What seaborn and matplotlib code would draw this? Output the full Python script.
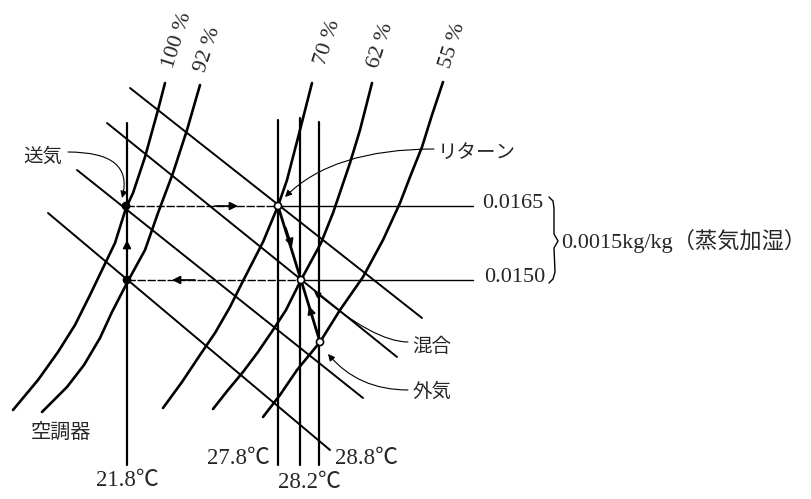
import pandas as pd
import seaborn as sns
import matplotlib.pyplot as plt

# sketch coordinates (px of the original drawing, y grows downwards)

# relative humidity curves
rh_labels = ["100 %", "92 %", "70 %", "62 %", "55 %"]
rh_100_x = [165, 158, 145, 133, 126, 115, 102, 90, 75, 58, 38, 13]
rh_100_y = [83, 110, 157, 193, 208, 243, 270, 295, 325, 352, 380, 410]
rh_92_x = [200, 187, 173, 158, 145, 128, 112, 100, 84, 67, 42]
rh_92_y = [85, 130, 173, 213, 250, 281, 312, 338, 365, 387, 412]
rh_70_x = [312, 300, 287, 278, 263, 243, 230, 215, 200, 182, 163]
rh_70_y = [83, 130, 180, 206, 242, 281, 307, 333, 355, 382, 408]
rh_62_x = [372, 360, 350, 333, 321, 301, 286, 273, 258, 243, 228, 213]
rh_62_y = [83, 130, 163, 213, 243, 280, 310, 330, 352, 372, 390, 409]
rh_55_x = [443, 432, 422, 410, 400, 383, 363, 340, 320, 297, 280, 263]
rh_55_y = [82, 115, 147, 177, 203, 240, 277, 310, 342, 370, 395, 417]
rh_label_x = [178, 208, 328, 381, 453]
rh_label_y = [40, 50, 43, 46, 46]

# enthalpy lines (start / end)
enth_x0 = [130, 107, 77, 48]
enth_y0 = [88, 123, 170, 213]
enth_x1 = [422, 397, 363, 330]
enth_y1 = [318, 357, 398, 450]

# dry bulb temperatures
db_labels = ["21.8℃", "27.8℃", "28.2℃", "28.8℃"]
db_x = [127, 278, 300, 319]
db_top = [123, 120, 118, 122]
db_bottom = [465, 465, 465, 465]
db_label_x = [127, 238, 309, 367]
db_label_y = [481, 459, 482, 458]

# humidity ratios
hr_labels = ["0.0165", "0.0150"]
hr_y = [206, 280]
hr_x0 = [126, 127]
hr_xmid = [278, 301]
hr_x1 = [473, 473]
hr_label_x = [482, 484]
brace_x = [549, 553, 554, 554, 558, 554, 555, 553, 549]
brace_y = [197, 201, 208, 234, 241, 248, 272, 279, 283]
hr_diff_text = "0.0015kg/kg（蒸気加湿）"

# state points: supply, return, mixed, outdoor, coil outlet
state_x = [126, 278, 301, 320, 127]
state_y = [206, 206, 280, 342, 280]
state_fill = ["black", "white", "white", "white", "black"]

# process arrows (tail -> tip)
arrow_tail = [(215, 206), (195, 280), (127, 262), (286, 228), (314, 322)]
arrow_tip = [(238, 206), (172, 280), (127, 240), (292, 247), (309, 306)]

# leader labels: text, text pos, arrow tip, curve angles
lead_text = ["送気", "リターン", "混合", "外気"]
lead_text_xy = [(43, 156), (477, 152), (432, 346), (432, 391)]
lead_start = [(68, 152), (434, 149), (408, 342), (408, 390)]
lead_tip = [(122, 198), (285, 197), (314, 291), (328, 354)]
lead_angles = [(0, 75), (0, 45), (0, -40), (0, -50)]


def segments(xs_list, ys_list):
    rows = []
    for i, (xs, ys) in enumerate(zip(xs_list, ys_list)):
        for x, y in zip(xs, ys):
            rows.append({"x": x, "y": y, "line": i})
    return pd.DataFrame(rows)


def draw(df, lw, **kw):
    sns.lineplot(data=df, x="x", y="y", units="line", estimator=None, sort=False,
                 color="black", linewidth=lw, ax=ax, **kw)


sns.set_style("white")
plt.rcParams["font.family"] = ["Liberation Serif", "Noto Sans CJK JP"]

fig = plt.figure(figsize=(8.12, 4.99), dpi=100)
ax = fig.add_axes([0, 0, 1, 1])

draw(segments([rh_100_x, rh_92_x, rh_70_x, rh_62_x, rh_55_x],
              [rh_100_y, rh_92_y, rh_70_y, rh_62_y, rh_55_y]), 1.9)

draw(segments([[a, b] for a, b in zip(enth_x0, enth_x1)],
              [[a, b] for a, b in zip(enth_y0, enth_y1)]), 1.4)

draw(segments([[x, x] for x in db_x],
              [[t, b] for t, b in zip(db_top, db_bottom)]), 1.6)

# humidity lines: dashed between states, plain out to the labels
draw(segments([[a, b] for a, b in zip(hr_x0, hr_xmid)],
              [[y, y] for y in hr_y]), 1.0, linestyle=(0, (6, 1.2)))
draw(segments([[a, b] for a, b in zip(hr_xmid, hr_x1)],
              [[y, y] for y in hr_y]), 1.0)

# process lines return->mix and outdoor->mix
draw(segments([[state_x[1], state_x[2]], [state_x[3], state_x[2]]],
              [[state_y[1], state_y[2]], [state_y[3], state_y[2]]]), 2.0)

draw(segments([brace_x], [brace_y]), 1.0)

sns.scatterplot(x=state_x, y=state_y, color=state_fill, edgecolor="black",
                s=26, linewidth=1.2, zorder=5, ax=ax)

for tail, tip in zip(arrow_tail, arrow_tip):
    ax.annotate("", xy=tip, xytext=tail,
                arrowprops=dict(arrowstyle="-|>", color="black", lw=1.2,
                                mutation_scale=12, shrinkA=0, shrinkB=0))

for txt, txy, start, tip, (a, b) in zip(lead_text, lead_text_xy, lead_start,
                                        lead_tip, lead_angles):
    ax.annotate("", xy=tip, xytext=start,
                arrowprops=dict(arrowstyle="-|>", color="black", lw=0.8,
                                mutation_scale=10, shrinkA=0, shrinkB=0,
                                connectionstyle=f"angle3,angleA={a},angleB={b}"))
    ax.text(txy[0], txy[1], txt, fontsize=14, ha="center", va="center",
            family=["Noto Sans CJK JP"])

ax.text(61, 432, "空調器", fontsize=14.5, ha="center", va="center",
        family=["Noto Sans CJK JP"])

for lab, x, y in zip(rh_labels, rh_label_x, rh_label_y):
    ax.text(x, y, lab, fontsize=16, rotation=72, rotation_mode="anchor",
            ha="center", va="center")

for lab, x, y in zip(db_labels, db_label_x, db_label_y):
    ax.text(x, y, lab, fontsize=16.5, ha="center", va="center")

for lab, x, y in zip(hr_labels, hr_label_x, hr_y):
    ax.text(x, y - 2, lab, fontsize=16, ha="left", va="center")

ax.text(561, 241, hr_diff_text, fontsize=16, ha="left", va="center")

ax.set_xlim(0, 812)
ax.set_ylim(499, 0)
ax.axis("off")

fig.savefig("out.png", dpi=100, facecolor="white")
